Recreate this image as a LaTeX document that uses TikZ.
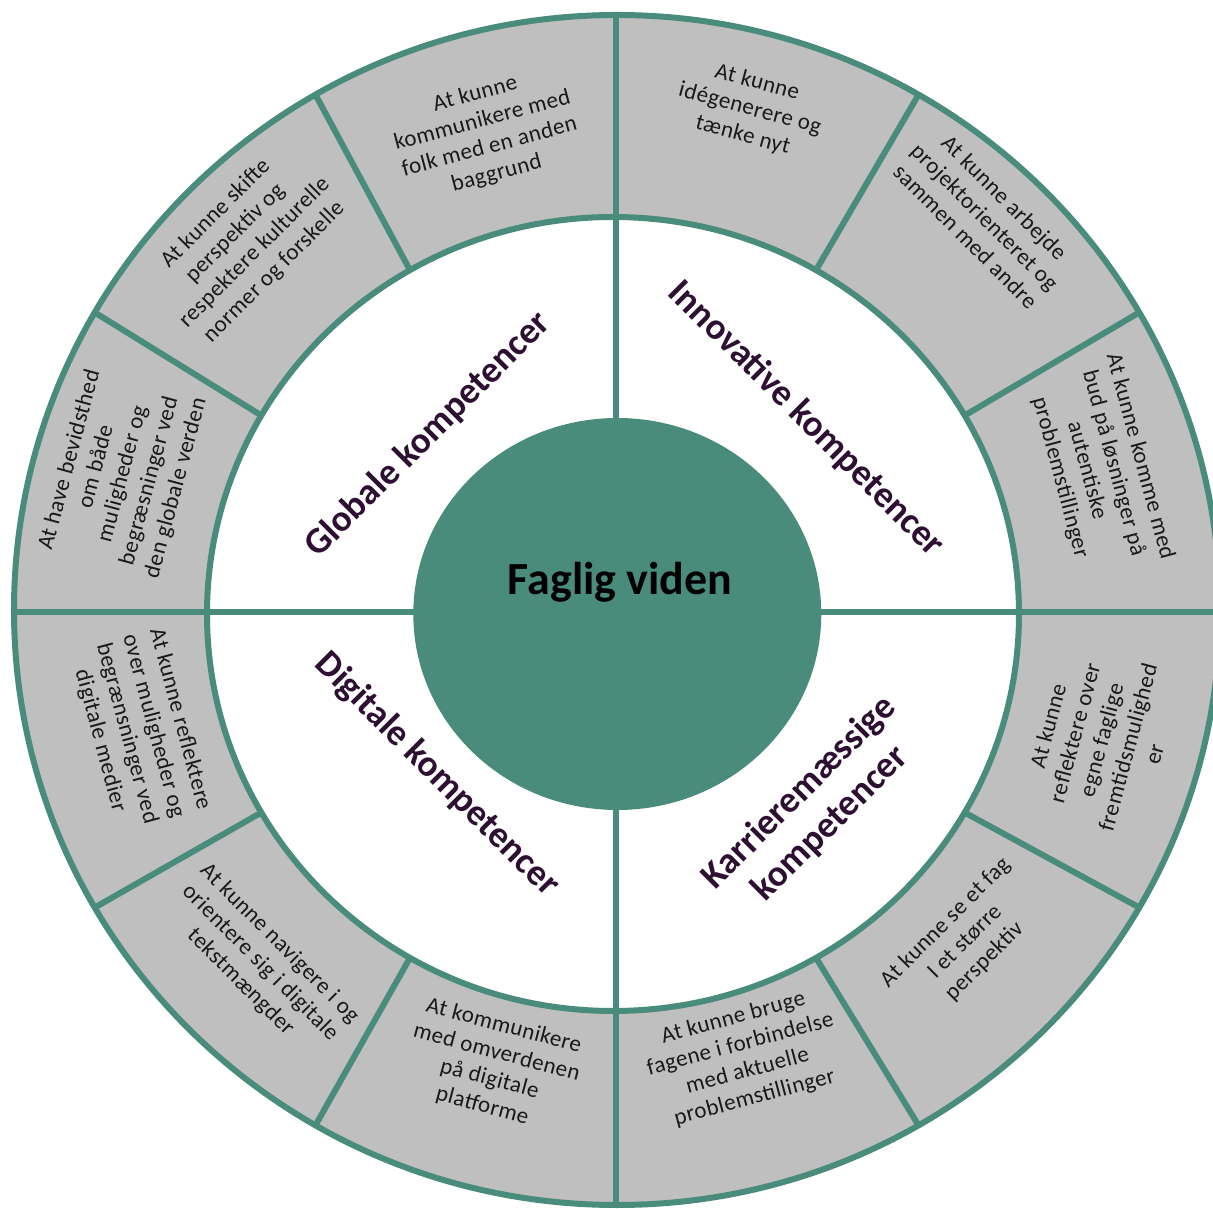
\documentclass[tikz,border=0pt]{standalone}
\usepackage{fontspec}
\setmainfont{Carlito}
\newfontfamily\itemfont{Carlito}[LetterSpace=2.0]
\definecolor{ringgreen}{RGB}{74,140,124}
\definecolor{ringgray}{RGB}{191,191,191}
\definecolor{labelpurple}{RGB}{45,15,50}
\definecolor{smalltext}{RGB}{25,25,25}
\tikzset{
  divider/.style={draw=ringgreen, line width=6pt},
  item/.style={align=center, text=smalltext, font=\itemfont\fontsize{23}{27.5}\selectfont, inner sep=0pt},
  quadlabel/.style={align=center, text=labelpurple, font=\fontsize{37}{44}\selectfont\bfseries, inner sep=0pt},
  corelabel/.style={text=black, font=\fontsize{46}{52}\selectfont\bfseries, inner sep=0pt}
}
\begin{document}
\begin{tikzpicture}[x=1pt,y=1pt]
\useasboundingbox (-616,-597) rectangle (597,612);
\clip (-616,-597) rectangle (597,612);
% outer ring
\fill[ringgray] (1,2) ellipse [x radius=603pt, y radius=595pt];
% inner white
\fill[white] (-3,-2) ellipse [x radius=406pt, y radius=397pt];
% radial dividers of the grey ring
\foreach \a in {30,60,120,150,210,240,300,330}{
  \draw[divider] ({-3+406*cos(\a)},{-2+397*sin(\a)}) -- ({1+603*cos(\a)},{2+595*sin(\a)});
}
% main cross
\draw[divider] (0,598) -- (0,-594);
\draw[divider] (-603,0) -- (605,0);
% ellipse outlines
\draw[divider] (1,2) ellipse [x radius=603pt, y radius=595pt];
\draw[divider] (-3,-2) ellipse [x radius=406pt, y radius=397pt];
% core
\fill[ringgreen] (1.3,-2) ellipse [x radius=204pt, y radius=196pt];
\node[corelabel] (core) at (4,30) {Faglig viden};
% quadrant labels
\node[quadlabel, rotate=45]  (glob) at (-188,177) {Globale kompetencer};
\node[quadlabel, rotate=-45] (inno) at (190,193) {Innovative kompetencer};
\node[quadlabel, rotate=-45] (digi) at (-179,-163) {Digitale kompetencer};
\node[quadlabel, rotate=45]  (karr) at (199,-196) {Karrieremæssige\\kompetencer};
% segment texts
\node[item, rotate=15]  (t105) at (-130,478) {At kunne\\kommunikere med\\folk med en anden\\baggrund};
\node[item, rotate=45]  (t135) at (-371,369) {At kunne skifte\\perspektiv og\\respektere kulturelle\\normer og forskelle};
\node[item, rotate=75]  (t165) at (-493,138) {At have bevidsthed\\om både\\muligheder og\\begræsninger ved\\den globale verden};
\node[item, rotate=-15] (t75)  at (134,503) {At kunne\\idégenerere og\\tænke nyt};
\node[item, rotate=-45] (t45)  at (369,395) {At kunne arbejde\\projektorienteret og\\sammen med andre};
\node[item, rotate=-75] (t15)  at (484,145) {At kunne komme med\\bud på løsninger på\\autentiske\\problemstillinger};
\node[item, rotate=75]  (t345) at (485,-128) {At kunne\\reflektere over\\egne faglige\\fremtidsmulighed\\er};
\node[item, rotate=45]  (t315) at (349,-330) {At kunne se et fag\\I et større\\perspektiv};
\node[item, rotate=15]  (t285) at (128,-446) {At kunne bruge\\fagene i forbindelse\\med aktuelle\\problemstillinger};
\node[item, rotate=-15] (t255) at (-123,-454) {At kommunikere\\med omverdenen\\på digitale\\platforme};
\node[item, rotate=-45] (t225) at (-356,-351) {At kunne navigere i og\\orientere sig i digitale\\tekstmængder};
\node[item, rotate=-75] (t195) at (-476,-118) {At kunne reflektere\\over muligheder og\\begrænsninger ved\\digitale medier};
\end{tikzpicture}
\end{document}
